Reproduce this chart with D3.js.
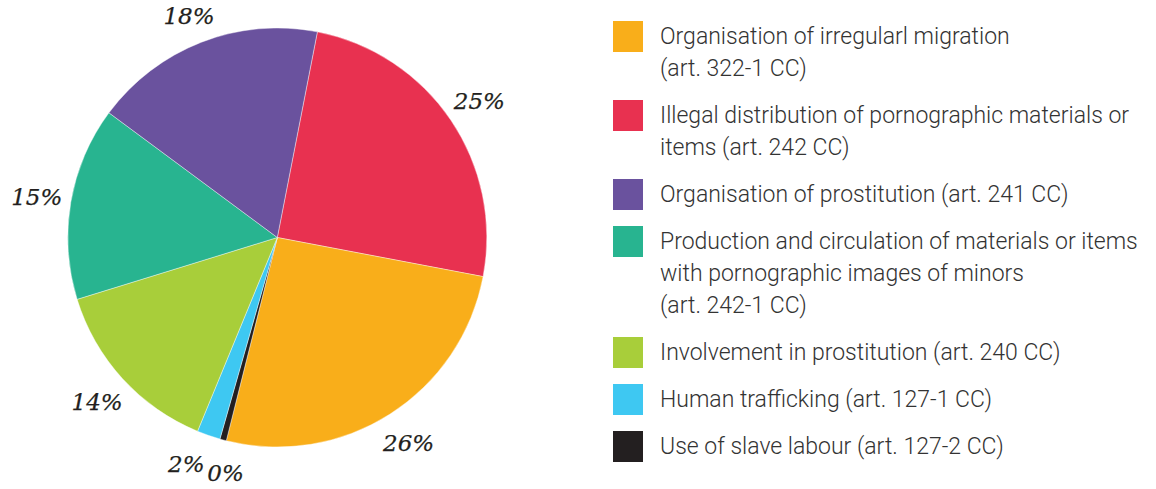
<!DOCTYPE html>
<html>
<head>
<meta charset="utf-8">
<script src="https://cdn.jsdelivr.net/npm/d3@7"></script>
<style>
  html, body { margin: 0; padding: 0; background: #fff; }
  svg { display: block; }
</style>
</head>
<body>
<svg id="chart" width="1156" height="489"></svg>
<script>
// ---- data (legend order) ----
const categories = [
  "Organisation of irregularl migration (art. 322-1 CC)",
  "Illegal distribution of pornographic materials or items (art. 242 CC)",
  "Organisation of prostitution (art. 241 CC)",
  "Production and circulation of materials or items with pornographic images of minors (art. 242-1 CC)",
  "Involvement in prostitution (art. 240 CC)",
  "Human trafficking (art. 127-1 CC)",
  "Use of slave labour (art. 127-2 CC)"
];
const legendLines = [
  ["Organisation of irregularl migration", "(art. 322-1 CC)"],
  ["Illegal distribution of pornographic materials or", "items (art. 242 CC)"],
  ["Organisation of prostitution (art. 241 CC)"],
  ["Production and circulation of materials or items", "with pornographic images of minors", "(art. 242-1 CC)"],
  ["Involvement in prostitution (art. 240 CC)"],
  ["Human trafficking (art. 127-1 CC)"],
  ["Use of slave labour (art. 127-2 CC)"]
];
const values = [25.9, 24.9, 17.9, 14.9, 14.0, 1.8, 0.5];
const percentLabels = ["26%", "25%", "18%", "15%", "14%", "2%", "0%"];
const colors = ["#F9AE1A", "#E83150", "#6A529E", "#28B490", "#A8CE3A", "#3EC8F2", "#231F20"];
// clockwise drawing order of slices in the pie (indices into the arrays above)
const pieOrder = [1, 0, 6, 5, 4, 3, 2];

// ---- layout ----
const W = 1156, H = 489;
const svg = d3.select("#chart");
const cx = 277.3, cy = 237.5, radius = 209.5, labelRadius = 244;
const startAngle = 11.03 * Math.PI / 180;

const data = pieOrder.map(i => ({
  name: categories[i], value: values[i], label: percentLabels[i], color: colors[i]
}));

const pie = d3.pie()
  .sort(null)
  .value(d => d.value)
  .startAngle(startAngle)
  .endAngle(startAngle + 2 * Math.PI);

const arc = d3.arc().innerRadius(0).outerRadius(radius);

const g = svg.append("g").attr("transform", `translate(${cx},${cy})`);
const arcs = pie(data);

g.selectAll("path.slice")
  .data(arcs)
  .join("path")
  .attr("class", "slice")
  .attr("d", arc)
  .attr("fill", d => d.data.color)
  .attr("stroke", "#ffffff")
  .attr("stroke-width", 0.4);

// percentage labels outside the pie, at mid angle; small neighbours are pushed apart
const labels = g.selectAll("text.pct")
  .data(arcs)
  .join("text")
  .attr("class", "pct")
  .attr("text-anchor", "middle")
  .attr("dy", "0.35em")
  .style("font-family", "'DejaVu Serif', Georgia, serif")
  .style("font-style", "italic")
  .style("font-size", "23px")
  .style("fill", "#231F20")
  .style("stroke", "#231F20")
  .style("stroke-width", 0.25)
  .text(d => d.data.label);

const ang = arcs.map(d => (d.startAngle + d.endAngle) / 2);
const pos = a => [labelRadius * Math.sin(a), -labelRadius * Math.cos(a)];
const sizes = [];
labels.each(function () { const b = this.getBBox(); sizes.push([b.width, b.height * 0.75]); });
for (let iter = 0; iter < 400; iter++) {
  let moved = false;
  for (let i = 0; i < ang.length; i++) {
    const j = (i + 1) % ang.length;
    const [xi, yi] = pos(ang[i]), [xj, yj] = pos(ang[j]);
    const ox = (sizes[i][0] + sizes[j][0]) / 2 - Math.abs(xi - xj);
    const oy = (sizes[i][1] + sizes[j][1]) / 2 - Math.abs(yi - yj);
    if (ox > -2 && oy > -2) {
      ang[i] -= 0.002; ang[j] += 0.002; moved = true;
    }
  }
  if (!moved) break;
}
// keep labels inside the drawing area
const clampY = (y, i) => {
  const hh = sizes[i][1] / 2 + 6;
  return Math.max(hh - cy, Math.min(H - cy - hh, y));
};
labels.attr("transform", (d, i) => {
  const [x, y] = pos(ang[i]);
  return `translate(${x},${clampY(y, i)})`;
});

// ---- legend ----
const legendX = 613, legendTop = 21, swatchW = 30, swatchH = 31;
const lineH = 32, itemGap = 47, textX = 660, baselineOffset = 23;
const legendFont = "Roboto, 'Open Sans', sans-serif";

const legend = svg.append("g");
let y = legendTop;
categories.forEach((c, i) => {
  const item = legend.append("g");
  item.append("rect")
    .attr("x", legendX).attr("y", y)
    .attr("width", swatchW).attr("height", swatchH)
    .attr("fill", colors[i]);
  const t = item.append("text")
    .attr("class", "legtext")
    .attr("x", textX).attr("y", y + baselineOffset)
    .style("font-family", legendFont)
    .style("font-weight", 300)
    .style("font-size", "23px")
    .style("fill", "#333333");
  legendLines[i].forEach((ln, k) => {
    t.append("tspan").attr("x", textX).attr("y", y + baselineOffset + k * lineH).text(ln);
  });
  y += itemGap + (legendLines[i].length - 1) * lineH;
});

// compress legend text horizontally to match the narrow DIN-like face of the original
const probe = legend.append("text")
  .style("font-family", legendFont)
  .style("font-weight", 300)
  .style("font-size", "23px")
  .text(legendLines[1][0]);
const w = probe.node().getComputedTextLength();
probe.remove();
const targetW = 488;
const sx = Math.min(1, targetW / w);
legend.selectAll("text.legtext")
  .attr("transform", `translate(${textX},0) scale(${sx},1) translate(${-textX},0)`);
</script>
</body>
</html>
